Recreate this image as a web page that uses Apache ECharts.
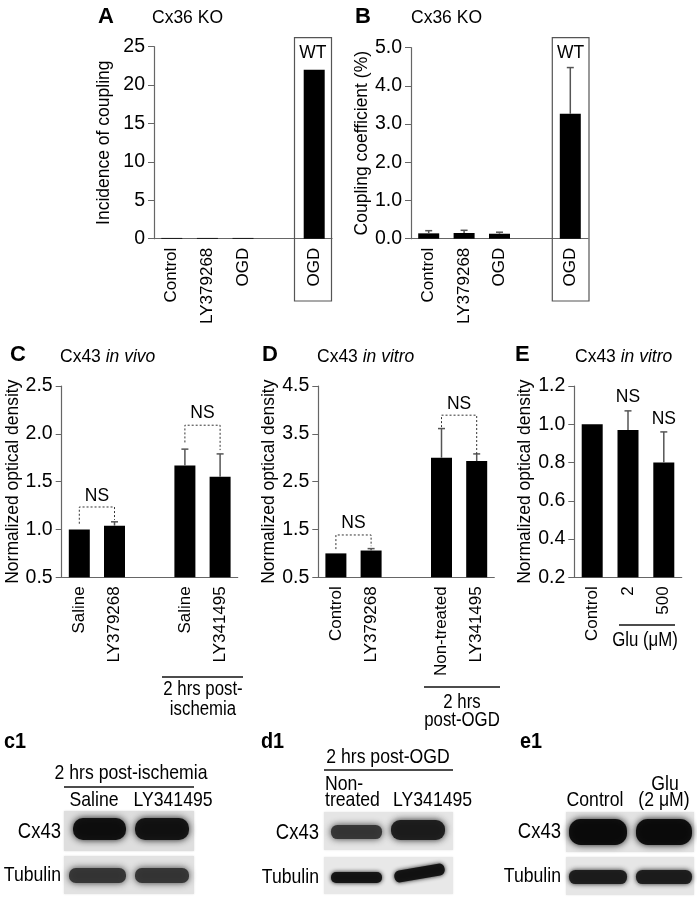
<!DOCTYPE html>
<html><head><meta charset="utf-8">
<script src="https://cdn.jsdelivr.net/npm/echarts@6/dist/echarts.min.js"></script>
<style>html,body{margin:0;padding:0;background:#fff}#c{width:697px;height:900px}</style>
</head><body><div id="c"></div>
<script>
// ---------- data ----------
const catsA = ['Control', 'LY379268', 'OGD', '', 'OGD'];
const meanA = [0.1, 0.1, 0.1, null, 22];
const catsB = ['Control', 'LY379268', 'OGD', '', 'OGD'];
const meanB = [0.14, 0.15, 0.13, null, 3.27];
const semB = [0.07, 0.07, 0.04, null, 1.21];
const catsC = ['Saline', 'LY379268', '', 'Saline', 'LY341495'];
const meanC = [1.0, 1.04, null, 1.67, 1.55];
const semC = [0, 0.04, null, 0.17, 0.24];
const catsD = ['Control', 'LY379268', '', 'Non-treated', 'LY341495'];
const meanD = [1.0, 1.06, null, 3.0, 2.93];
const semD = [0, 0.04, null, 0.61, 0.15];
const catsE = ['Control', '2', '500'];
const meanE = [1.0, 0.97, 0.80];
const semE = [0, 0.10, 0.16];
// tick labels
const ticksA = [0, 5, 10, 15, 20, 25];
const ticksB = [0, 1, 2, 3, 4, 5];
const ticksC = [0.5, 1.0, 1.5, 2.0, 2.5];
const ticksD = [0.5, 1.5, 2.5, 3.5, 4.5];
const ticksE = [0.2, 0.4, 0.6, 0.8, 1.0, 1.2];
// NS brackets: [leftIdx, rightIdx, yTop, yLeftEnd, yRightEnd, yText]
const nsC = [[0, 1, 1.235, 1.06, 1.10, 1.35], [3, 4, 2.09, 1.91, 1.83, 2.22]];
const nsD = [[0, 1, 1.385, 1.09, 1.15, 1.64], [3, 4, 3.89, 3.64, 3.08, 4.12]];
// NS labels in E: [idx, yText]
const nsE = [[1, 1.14], [2, 1.025]];

// ---------- helpers ----------
const FONT = "'Liberation Sans', Arial, Helvetica, sans-serif";
const AX = '#666';
function grid(left, top, width, height) {
  return { left, top, width, height, containLabel: false, outerBoundsMode: 'none' };
}
function xAxis(gi, cats) {
  return {
    type: 'category', gridIndex: gi, data: cats,
    axisLine: { onZero: false, lineStyle: { color: AX, width: 1.2 } },
    axisTick: { alignWithLabel: true, length: 5, interval: (i, v) => v !== '', lineStyle: { color: AX } },
    axisLabel: { rotate: 90, fontSize: 17, color: '#000', margin: 9, interval: 0, fontFamily: FONT },
    splitLine: { show: false }
  };
}
function yAxis(gi, min, max, interval, ticks, name, dec, gap) {
  return {
    type: 'value', gridIndex: gi, min, max, interval,
    name, nameLocation: 'middle', nameGap: gap, nameRotate: 90,
    nameTextStyle: { fontSize: 17.5, color: '#000', fontFamily: FONT },
    axisLine: { show: true, onZero: false, lineStyle: { color: AX, width: 1.2 } },
    axisTick: { show: true, length: 6, customValues: ticks, lineStyle: { color: AX } },
    axisLabel: { fontSize: 19.5, color: '#000', margin: 9, fontFamily: FONT, customValues: ticks, formatter: v => v.toFixed(dec) },
    splitLine: { show: false }
  };
}
function bars(gi, means) {
  return { type: 'bar', xAxisIndex: gi, yAxisIndex: gi, data: means.map(v => v == null ? '-' : v), barWidth: 21, itemStyle: { color: '#000' }, silent: true, animation: false, z: 2 };
}
function errRender(params, api) {
  const i = api.value(0), m = api.value(1), s = api.value(2);
  const b = api.coord([i, m]), t = api.coord([i, m + s]);
  return { type: 'group', children: [
    { type: 'line', shape: { x1: b[0], y1: b[1], x2: t[0], y2: t[1] }, style: { stroke: '#555', lineWidth: 1.5 } },
    { type: 'line', shape: { x1: t[0] - 3.5, y1: t[1], x2: t[0] + 3.5, y2: t[1] }, style: { stroke: '#555', lineWidth: 1.5 } }
  ] };
}
function errs(gi, means, sems) {
  const d = [];
  means.forEach((m, i) => { if (m != null && sems[i]) d.push([i, m, sems[i]]); });
  return { type: 'custom', xAxisIndex: gi, yAxisIndex: gi, data: d, renderItem: errRender, silent: true, animation: false, z: 3 };
}
function nsRender(params, api) {
  const a = api.value(0), b = api.value(1), yt = api.value(2), yl = api.value(3), yr = api.value(4), ytx = api.value(5);
  const pL = api.coord([a, yt]), pR = api.coord([b, yt]), lE = api.coord([a, yl]), rE = api.coord([b, yr]), tx = api.coord([a, ytx]);
  return { type: 'group', children: [
    { type: 'polyline', shape: { points: [lE, pL, pR, rE] }, style: { stroke: '#333', lineWidth: 1, lineDash: [2, 2], fill: null } },
    { type: 'text', x: (pL[0] + pR[0]) / 2, y: tx[1], style: { text: 'NS', fontSize: 17.5, fontFamily: FONT, fill: '#000', align: 'center', verticalAlign: 'middle' } }
  ] };
}
function brackets(gi, data) {
  return { type: 'custom', xAxisIndex: gi, yAxisIndex: gi, data, renderItem: nsRender, silent: true, animation: false, z: 4 };
}
function nsText(gi, data) {
  return { type: 'custom', xAxisIndex: gi, yAxisIndex: gi, data, silent: true, animation: false, z: 4,
    renderItem: (p, api) => { const c = api.coord([api.value(0), api.value(1)]);
      return { type: 'text', x: c[0], y: c[1], style: { text: 'NS', fontSize: 17.5, fontFamily: FONT, fill: '#000', align: 'center', verticalAlign: 'middle' } }; } };
}

// ---------- graphics (titles, boxes, annotations, blots) ----------
const G = [];
function txt(x, y, text, o) {
  o = o || {};
  G.push({ type: 'text', x, y, scaleX: o.sx || 1, silent: true, z: 10,
    style: { text, fontSize: o.size || 17, fontWeight: o.bold ? 'bold' : 'normal', fontFamily: FONT, fill: '#000',
      align: o.align || 'left', verticalAlign: 'middle', rich: o.rich } });
}
function hline(x1, x2, y, w) {
  G.push({ type: 'line', silent: true, z: 10, shape: { x1, y1: y, x2, y2: y }, style: { stroke: '#111', lineWidth: w || 1.4 } });
}
function box(x, y, w, h) {
  G.push({ type: 'rect', silent: true, z: 1, shape: { x, y, width: w, height: h }, style: { fill: null, stroke: '#555', lineWidth: 1.2 } });
}
function blotBg(x, y, w, h, c) {
  G.push({ type: 'rect', silent: true, z: 5, shape: { x, y, width: w, height: h }, style: { fill: c || '#e2e2e2', shadowBlur: 2, shadowColor: c || '#e2e2e2' } });
}
function band(x1, x2, y1, y2, color, blur, rot) {
  const el = { type: 'rect', silent: true, z: 6,
    shape: { x: x1, y: y1, width: x2 - x1, height: y2 - y1, r: (y2 - y1) / 2.2 },
    style: { fill: color, shadowBlur: blur, shadowColor: color, opacity: 0.95 } };
  if (rot) { el.rotation = rot; el.originX = (x1 + x2) / 2; el.originY = (y1 + y2) / 2; }
  G.push(el);
}
const SX = 0.84; // condensed look
// panel letters + titles
txt(98, 17, 'A', { bold: true, size: 22 });
txt(152, 18, 'Cx36 KO', { size: 17.5 });
txt(355, 17, 'B', { bold: true, size: 22 });
txt(411, 18, 'Cx36 KO', { size: 17.5 });
const ital = { i: { fontStyle: 'italic', fontSize: 17.5, fontFamily: FONT, fill: '#000' } };
txt(10, 355, 'C', { bold: true, size: 22 });
txt(60, 357, 'Cx43 {i|in vivo}', { rich: ital, size: 17.5 });
txt(262, 355, 'D', { bold: true, size: 22 });
txt(317, 357, 'Cx43 {i|in vitro}', { rich: ital, size: 17.5 });
txt(515, 355, 'E', { bold: true, size: 22 });
txt(575, 357, 'Cx43 {i|in vitro}', { rich: ital, size: 17.5 });
// WT boxes
box(294.5, 37.7, 37, 263.3);
txt(312.8, 53, 'WT', { align: 'center', size: 17.5 });
box(552.3, 37.7, 36.7, 263.3);
txt(570.5, 53, 'WT', { align: 'center', size: 17.5 });
// secondary x annotations
hline(162, 243, 677);
txt(203, 689, '2 hrs post-', { align: 'center', sx: SX, size: 20 });
txt(203, 709, 'ischemia', { align: 'center', sx: SX, size: 20 });
hline(424, 500, 687);
txt(462, 702, '2 hrs', { align: 'center', sx: SX, size: 20 });
txt(462, 720, 'post-OGD', { align: 'center', sx: SX, size: 20 });
hline(619, 675, 625);
txt(645, 640, 'Glu (\u03bcM)', { align: 'center', sx: SX, size: 20 });
// blot panels
txt(4, 742, 'c1', { bold: true, size: 22, sx: 0.9 });
txt(261, 742, 'd1', { bold: true, size: 22, sx: 0.9 });
txt(520, 742, 'e1', { bold: true, size: 22, sx: 0.9 });
// c1
txt(131, 773, '2 hrs post-ischemia', { align: 'center', sx: SX, size: 21 });
hline(64, 194, 787);
txt(94, 800, 'Saline', { align: 'center', sx: SX, size: 21 });
txt(173, 800, 'LY341495', { align: 'center', sx: SX, size: 21 });
txt(61, 832, 'Cx43', { align: 'right', sx: SX, size: 22 });
txt(61, 875, 'Tubulin', { align: 'right', sx: SX, size: 21 });
blotBg(64, 811, 130, 40, '#dedede');
band(73, 126, 818, 840, '#0d0d0d', 7);
band(135, 189, 818, 840, '#101010', 7);
blotBg(64, 856, 130, 38, '#e2e2e2');
band(69, 126, 868, 883, '#333', 7);
band(135, 189, 868, 883, '#333', 7);
// d1
txt(388, 757, '2 hrs post-OGD', { align: 'center', sx: SX, size: 21 });
hline(324, 453, 770);
txt(325, 784, 'Non-', { sx: SX, size: 21 });
txt(325, 800, 'treated', { sx: SX, size: 21 });
txt(393, 800, 'LY341495', { sx: SX, size: 21 });
txt(319, 833, 'Cx43', { align: 'right', sx: SX, size: 22 });
txt(319, 877, 'Tubulin', { align: 'right', sx: SX, size: 21 });
blotBg(324, 812, 129, 38, '#e5e5e5');
band(331, 382, 825, 839, '#333', 7);
band(391, 445, 820, 840, '#1a1a1a', 7);
blotBg(324, 857, 129, 37, '#e8e8e8');
band(331, 382, 872, 883, '#111', 4);
band(394, 445, 867, 879, '#111', 4, 0.17);
// e1
txt(595, 800, 'Control', { align: 'center', sx: SX, size: 21 });
txt(665, 784, 'Glu', { align: 'center', sx: SX, size: 21 });
txt(664, 800, '(2 \u03bcM)', { align: 'center', sx: SX, size: 21 });
txt(561, 832, 'Cx43', { align: 'right', sx: SX, size: 22 });
txt(561, 876, 'Tubulin', { align: 'right', sx: SX, size: 21 });
blotBg(566, 812, 128, 40, '#e3e3e3');
band(569, 627, 819, 845, '#0a0a0a', 7);
band(636, 692, 819, 845, '#0a0a0a', 7);
blotBg(566, 857, 128, 38, '#e6e6e6');
band(569, 627, 870, 884, '#1a1a1a', 5);
band(636, 692, 870, 884, '#1a1a1a', 5);

// ---------- chart ----------
const chart = echarts.init(document.getElementById('c'), null, { renderer: 'canvas' });
chart.setOption({
  animation: false,
  backgroundColor: '#fff',
  textStyle: { fontFamily: FONT },
  grid: [
    grid(154, 46.7, 178, 192),
    grid(411, 47.7, 177, 191),
    grid(61.7, 386, 176, 191.3),
    grid(318.3, 386, 176, 191.3),
    grid(574.3, 386, 107.4, 191.3)
  ],
  xAxis: [xAxis(0, catsA), xAxis(1, catsB), xAxis(2, catsC), xAxis(3, catsD), xAxis(4, catsE)],
  yAxis: [
    yAxis(0, 0, 25, 5, ticksA, 'Incidence of coupling', 0, 41),
    yAxis(1, 0, 5, 1, ticksB, 'Coupling coefficient (%)', 1, 40),
    yAxis(2, 0.5, 2.5, 0.5, ticksC, 'Normalized optical density', 1, 39),
    yAxis(3, 0.5, 4.5, 0.5, ticksD, 'Normalized optical density', 1, 40),
    yAxis(4, 0.2, 1.2, 0.2, ticksE, 'Normalized optical density', 1, 39)
  ],
  series: [
    bars(0, meanA),
    bars(1, meanB), errs(1, meanB, semB),
    bars(2, meanC), errs(2, meanC, semC), brackets(2, nsC),
    bars(3, meanD), errs(3, meanD, semD), brackets(3, nsD),
    bars(4, meanE), errs(4, meanE, semE), nsText(4, nsE)
  ],
  graphic: { elements: G }
});
</script>
</body></html>
